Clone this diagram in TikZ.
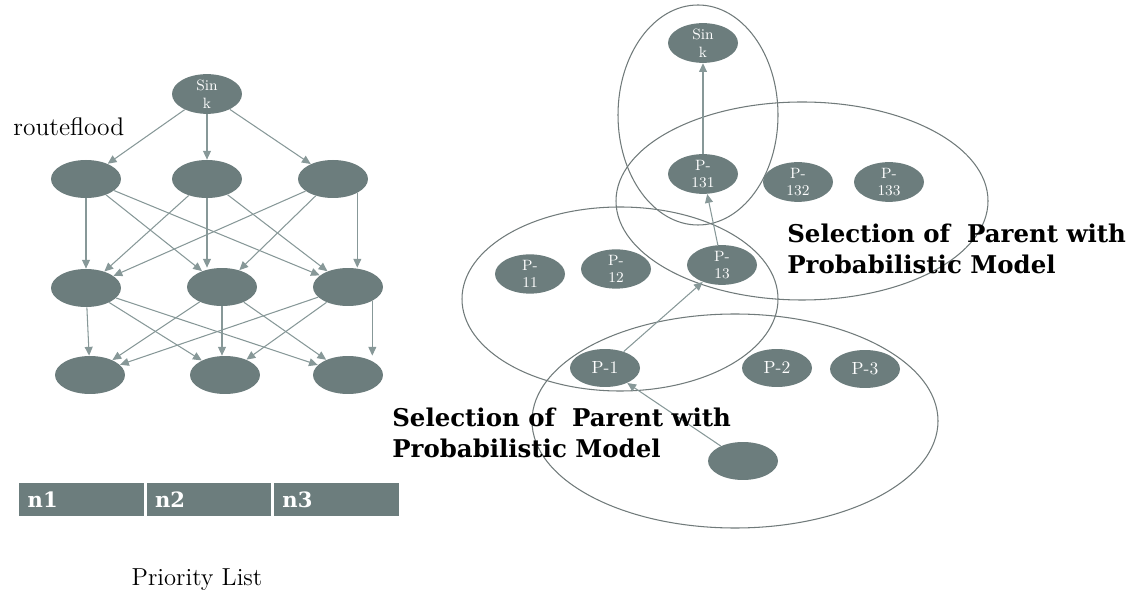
\documentclass[tikz,border=0pt]{standalone}
\usepackage{fontspec}
\usepackage{tikz}
\usetikzlibrary{shapes.geometric,arrows.meta}
\newfontfamily\slabfont{DejaVu Serif}
\definecolor{nodegray}{RGB}{108,125,125}
\definecolor{edgegray}{RGB}{135,152,152}
\definecolor{ringgray}{RGB}{112,122,122}

\begin{document}
\begin{tikzpicture}[x=0.02cm, y=0.02cm]
		\tikzstyle{every node}+=[inner sep=0pt]
		\tikzstyle{vert}=[ellipse, fill=nodegray, minimum width=1.4cm, minimum height=0.76cm, text=white, align=center, font=\fontsize{8.5}{10}\selectfont]
		\tikzstyle{arr}=[draw=edgegray, line width=0.6pt, -{Triangle[length=5pt,width=4.5pt]}]
		\tikzstyle{ring}=[draw=ringgray, line width=0.6pt]
		\tikzstyle{cell}=[rectangle, anchor=west, fill=nodegray, draw=white, line width=0.8pt, minimum height=0.7cm, text width=2.16cm, inner xsep=0.18cm, align=left, text=white, font=\slabfont\bfseries\fontsize{12}{14}\selectfont]
		\tikzstyle{caption}=[anchor=west, align=left, font=\slabfont\bfseries\fontsize{13.9}{18}\selectfont]
		\useasboundingbox (0,0) rectangle (1145,-597);
		% flooding tree
		\node [anchor=west, font=\fontsize{14.5}{17}\selectfont] (flood) at (13,-127) {routeflood};
		\node [vert] (sink) at (207,-94) {Sin\\k};
		\node [vert] (a1) at (86,-179) {};
		\node [vert] (b1) at (207,-179) {};
		\node [vert] (c1) at (333,-179) {};
		\node [vert] (a2) at (86,-288) {};
		\node [vert] (b2) at (222,-287) {};
		\node [vert] (c2) at (348,-287) {};
		\node [vert] (a3) at (90,-375) {};
		\node [vert] (b3) at (225,-375) {};
		\node [vert] (c3) at (348,-375) {};
		\draw [arr] (sink) -- (a1);
		\draw [arr] (sink) -- (b1);
		\draw [arr] (sink) -- (c1);
		\draw [arr] (a1) -- (a2);
		\draw [arr] (a1) -- (b2);
		\draw [arr] (a1) -- (c2);
		\draw [arr] (b1) -- (a2);
		\draw [arr] (b1.south) -- (b1.south |- b2.north);
		\draw [arr] (b1) -- (c2);
		\draw [arr] (c1) -- (a2);
		\draw [arr] (c1) -- (b2);
		\draw [arr] (c1.-30) -- (c1.-30 |- c2.north);
		\draw [arr] (a2) -- (a3);
		\draw [arr] (a2) -- (b3);
		\draw [arr] (a2) -- (c3);
		\draw [arr] (b2) -- (a3);
		\draw [arr] (b2.south) -- (b2.south |- b3.north);
		\draw [arr] (b2) -- (c3);
		\draw [arr] (c2) -- (a3);
		\draw [arr] (c2) -- (b3);
		\draw [arr] (c2.-30) -- (c2.-30 |- c3.north);
		% priority list
		\node [cell] (n1) at (18,-499.5) {n1};
		\node [cell] (n2) at (n1.east) {n2};
		\node [cell] (n3) at (n2.east) {n3};
		\node [font=\fontsize{14}{17}\selectfont] (plist) at (197,-580) {Priority List};
		% parent selection
		\draw [ring] (698,-115) ellipse (80 and 110);
		\draw [ring] (802,-201) ellipse (186 and 99);
		\draw [ring] (620,-299) ellipse (158 and 92);
		\draw [ring] (735,-421) ellipse (203 and 107);
		\node [vert] (root) at (703,-43) {Sin\\k};
		\node [vert] (p131) at (703,-174) {P-\\131};
		\node [vert] (p132) at (798,-182) {P-\\132};
		\node [vert] (p133) at (889,-182) {P-\\133};
		\node [vert] (p11) at (530,-274) {P-\\11};
		\node [vert] (p12) at (616,-269) {P-\\12};
		\node [vert] (p13) at (722,-265) {P-\\13};
		\node [vert, font=\fontsize{10}{12}\selectfont] (p1) at (605,-368) {P-1};
		\node [vert, font=\fontsize{10}{12}\selectfont] (p2) at (777,-368) {P-2};
		\node [vert, font=\fontsize{10}{12}\selectfont] (p3) at (865,-369) {P-3};
		\node [vert] (src) at (743,-461) {};
		\draw [arr] (src) -- (p1);
		\draw [arr] (p1) -- (p13);
		\draw [arr] (p13) -- (p131);
		\draw [arr] (p131) -- (root);
		\node [caption] (selup) at (787,-249) {Selection of~ Parent with\\Probabilistic Model};
		\node [caption] (seldown) at (392,-433) {Selection of~ Parent with\\Probabilistic Model};
	\end{tikzpicture}
\end{document}
